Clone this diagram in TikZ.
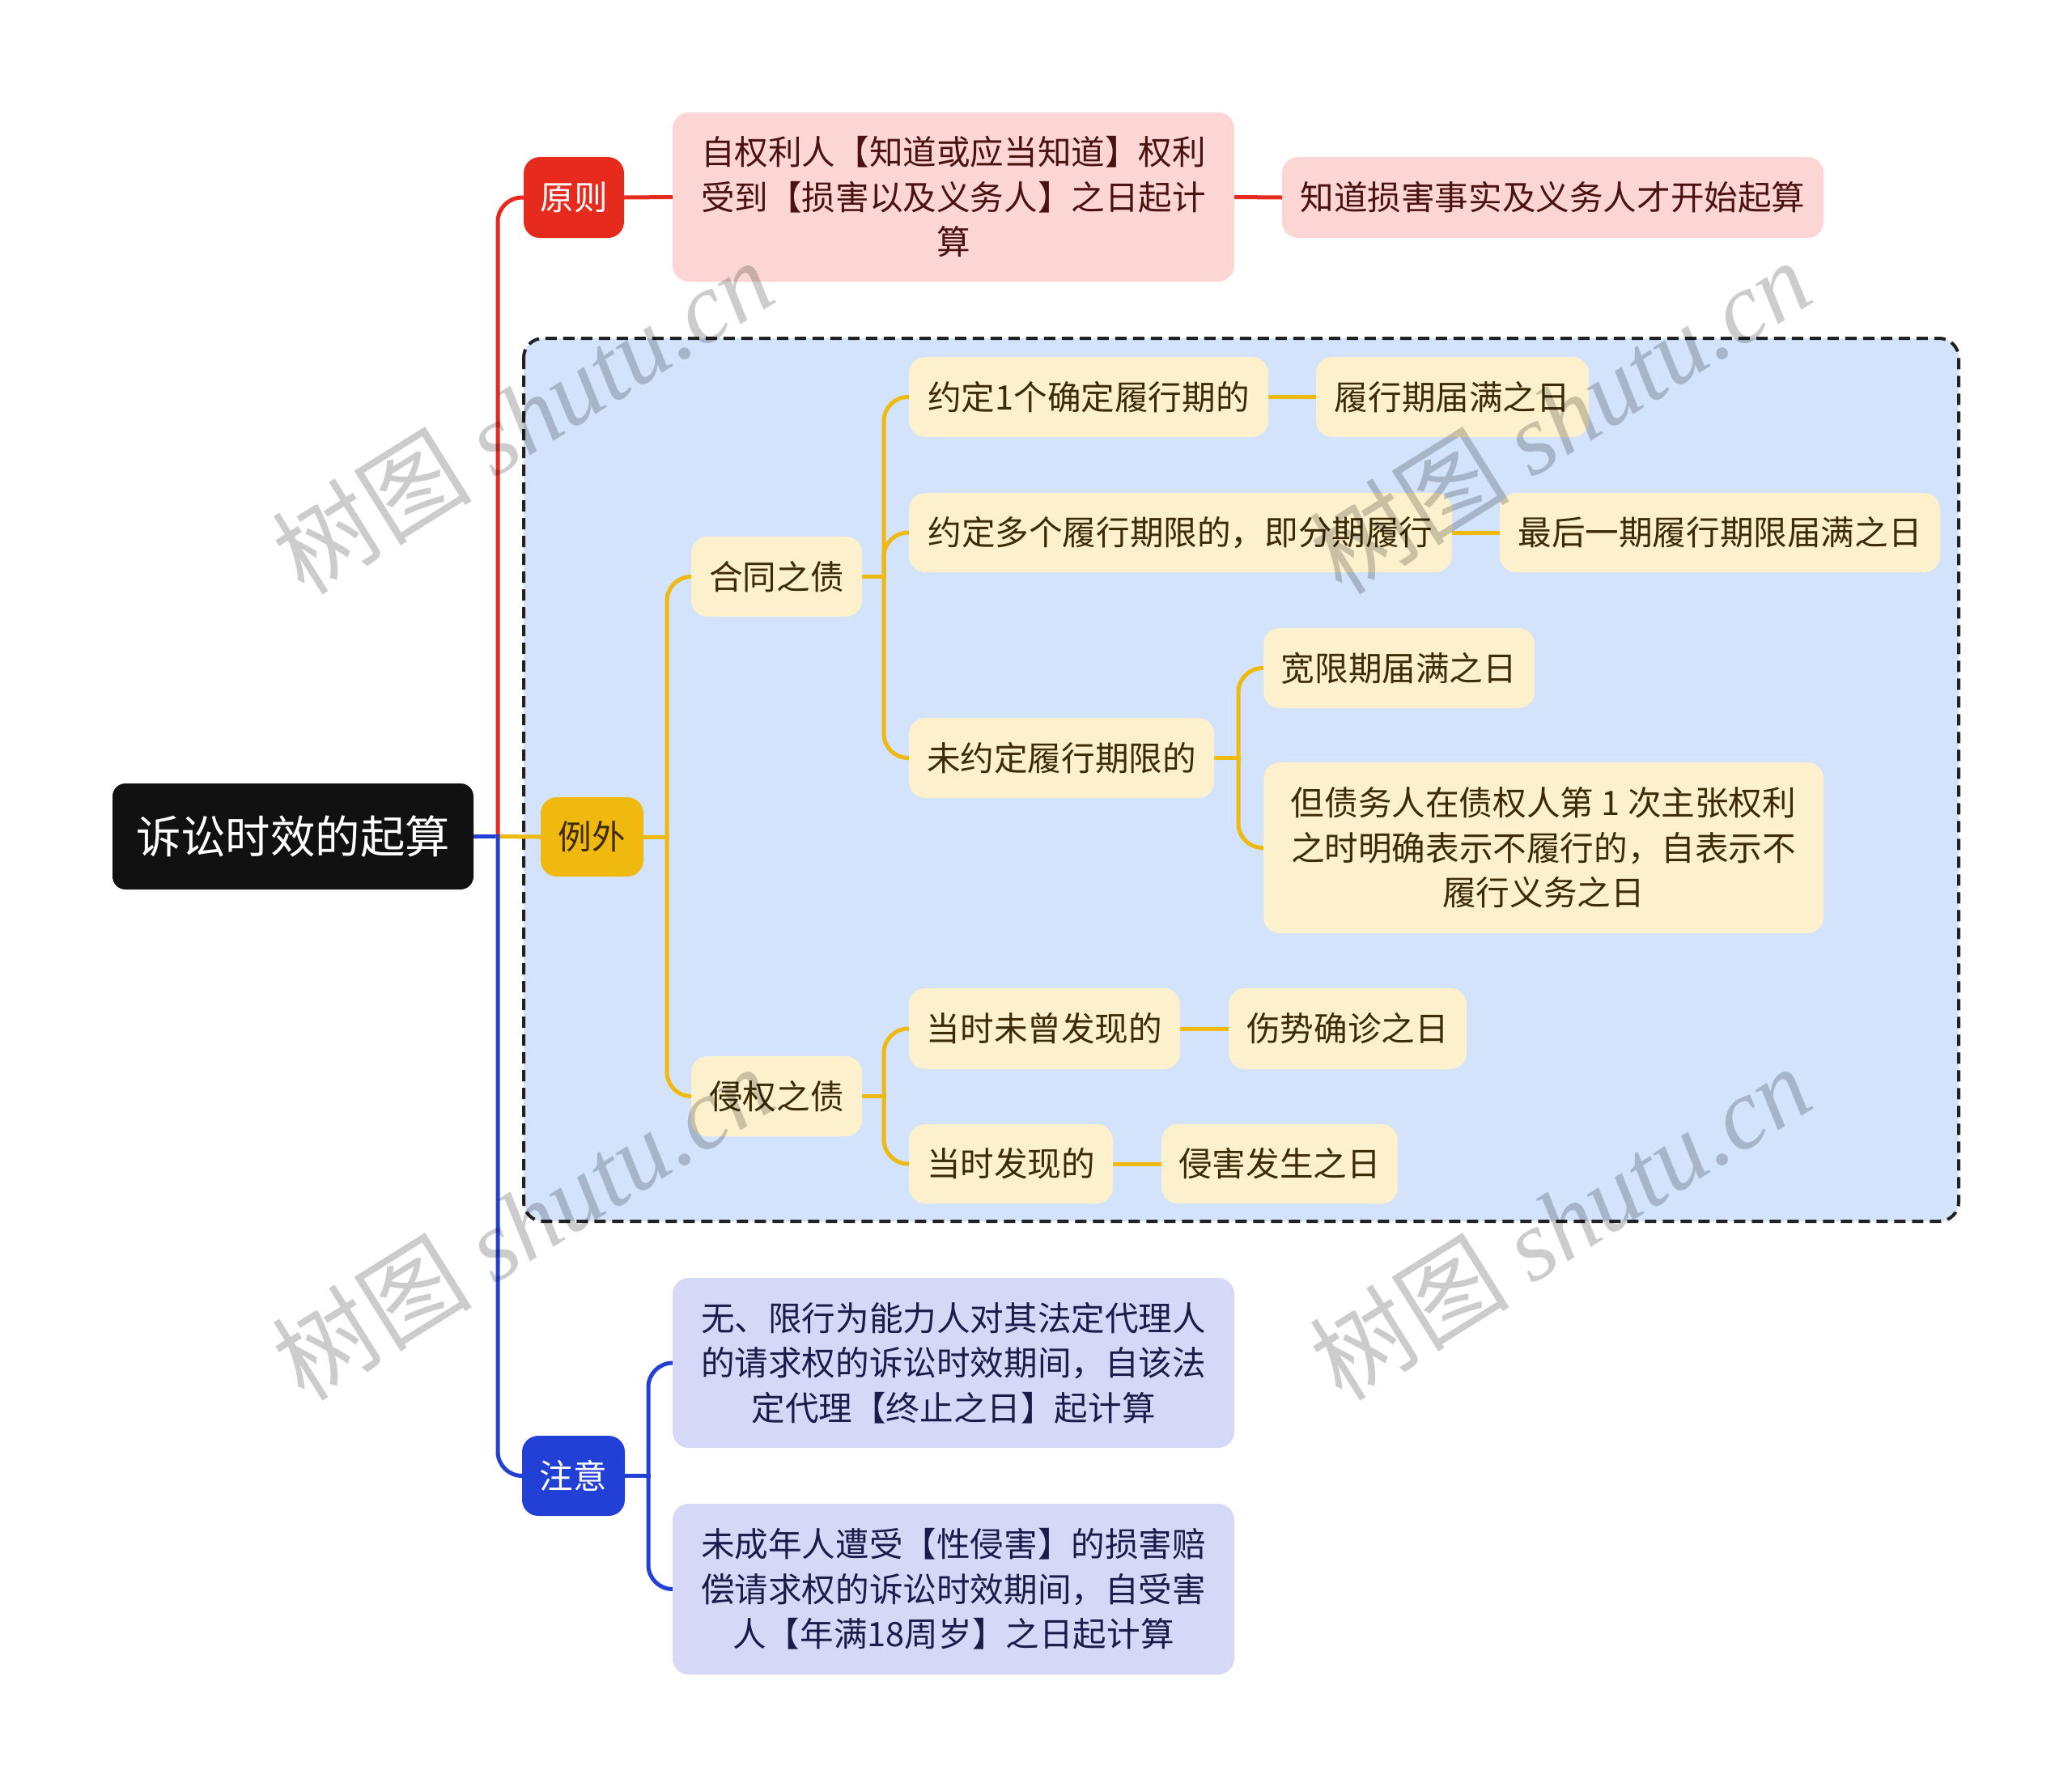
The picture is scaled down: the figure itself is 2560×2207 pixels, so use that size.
\documentclass[tikz,border=0pt]{standalone}
\usepackage{fontspec}
\setmainfont{Noto Sans CJK SC}
\newfontfamily\cjk{Noto Sans CJK SC}
\newfontfamily\wmlat{Liberation Serif}
\usetikzlibrary{backgrounds}
\definecolor{cred}{HTML}{E62A1E}
\definecolor{cpink}{HTML}{FCD6D4}
\definecolor{cpinktxt}{HTML}{4A1210}
\definecolor{cgold}{HTML}{EFB90F}
\definecolor{ccream}{HTML}{FDF0CD}
\definecolor{ccreamtxt}{HTML}{3D2B06}
\definecolor{cframe}{HTML}{D3E3FC}
\definecolor{cframeline}{HTML}{222222}
\definecolor{cblue}{HTML}{2340D6}
\definecolor{clav}{HTML}{D5D8F6}
\definecolor{clavtxt}{HTML}{1A1D4A}
\definecolor{croot}{HTML}{111111}
\tikzset{
  sz/.style 2 args={minimum width=#1*0.5pt, minimum height=#2*0.5pt},
  basebox/.style={rounded corners=10pt, inner sep=0pt, align=center,
    font=\fontsize{20.8}{27.75}\selectfont},
  rootbox/.style={basebox, rounded corners=8pt, fill=croot, text=white,
    font=\fontsize{27.7}{33}\selectfont},
  redbox/.style={basebox, fill=cred, text=white},
  pinkbox/.style={basebox, fill=cpink, text=cpinktxt},
  goldbox/.style={basebox, fill=cgold, text=ccreamtxt},
  creambox/.style={basebox, fill=ccream, text=ccreamtxt},
  bluebox/.style={basebox, fill=cblue, text=white},
  lavbox/.style={basebox, fill=clav, text=clavtxt},
  conn/.style={line width=2.5pt, rounded corners=15pt, line cap=rect},
  framebox/.style={fill=cframe, draw=cframeline, line width=2pt,
    dash pattern=on 7pt off 4pt, rounded corners=12pt},
  wmark/.style={rotate=32, text=black, text opacity=0.2, inner sep=0pt,
    font=\fontsize{62}{62}\selectfont},
}
\begin{document}
\begin{tikzpicture}[x=0.5pt,y=-0.5pt]
\useasboundingbox (0,0) rectangle (2560,2207);
% nodes
\node[rootbox, sz={446}{131}] (root) at (362,1033.5) {诉讼时效的起算};
\node[redbox, sz={124}{100}] (yz) at (709,244) {原则};
\node[pinkbox, sz={694}{209}] (p1) at (1178,243.5) {自权利人【知道或应当知道】权利\\受到【损害以及义务人】之日起计\\算};
\node[pinkbox, sz={669}{100}] (p2) at (1918.5,244) {知道损害事实及义务人才开始起算};
\node[goldbox, sz={127}{98}] (lw) at (731.5,1034) {例外};
\node[creambox, sz={211}{99}] (ht) at (959.5,712.5) {合同之债};
\node[creambox, sz={211}{99}] (qq) at (959.5,1354.5) {侵权之债};
\node[creambox, sz={444}{99}] (a1) at (1345,490.5) {约定1个确定履行期的};
\node[creambox, sz={337}{99}] (a1r) at (1794.5,490.5) {履行期届满之日};
\node[creambox, sz={671}{98}] (a2) at (1458.5,658) {约定多个履行期限的，即分期履行};
\node[creambox, sz={544}{98}] (a2r) at (2125,658) {最后一期履行期限届满之日};
\node[creambox, sz={377}{99}] (a3) at (1311.5,936.5) {未约定履行期限的};
\node[creambox, sz={335}{99}] (a3a) at (1728.5,825.5) {宽限期届满之日};
\node[creambox, sz={692}{211}] (a3b) at (1907,1047.5) {但债务人在债权人第 1 次主张权利\\之时明确表示不履行的，自表示不\\履行义务之日};
\node[creambox, sz={335}{100}] (b1) at (1290.5,1271) {当时未曾发现的};
\node[creambox, sz={294}{100}] (b1r) at (1665,1271) {伤势确诊之日};
\node[creambox, sz={252}{98}] (b2) at (1249,1438) {当时发现的};
\node[creambox, sz={292}{98}] (b2r) at (1581,1438) {侵害发生之日};
\node[bluebox, sz={127}{99}] (zy) at (708.5,1823.5) {注意};
\node[lavbox, sz={694}{210}] (n1) at (1178,1684) {无、限行为能力人对其法定代理人\\的请求权的诉讼时效期间，自该法\\定代理【终止之日】起计算};
\node[lavbox, sz={694}{211}] (n2) at (1178,1963.5) {未成年人遭受【性侵害】的损害赔\\偿请求权的诉讼时效期间，自受害\\人【年满18周岁】之日起计算};
% junctions
\coordinate (j0) at (615,1033.5);
\coordinate (j1) at (824,1034);
\coordinate (j2) at (1092,712.5);
\coordinate (j3) at (1530,936.5);
\coordinate (j4) at (1092,1354.5);
\coordinate (j5) at (801,1823.5);
\begin{pgfonlayer}{background}
\draw[framebox] (647,418) rectangle (2420,1509);
% root level
\draw[conn, cblue] (root.east) -- (j0);
\draw[conn, cred] (j0) |- (yz.west);
\draw[conn, cgold] (j0) -- (lw.west);
\draw[conn, cblue] (j0) |- (zy.west);
% principle
\draw[conn, cred] (yz.east) -- (p1.west);
\draw[conn, cred] (p1.east) -- (p2.west);
% exception
\draw[conn, cgold] (lw.east) -- (j1);
\draw[conn, cgold] (j1) |- (ht.west);
\draw[conn, cgold] (j1) |- (qq.west);
\draw[conn, cgold] (ht.east) -- (j2);
\draw[conn, cgold] (j2) |- (a1.west);
\draw[conn, cgold] (j2) |- (a2.west);
\draw[conn, cgold] (j2) |- (a3.west);
\draw[conn, cgold] (a1.east) -- (a1r.west);
\draw[conn, cgold] (a2.east) -- (a2r.west);
\draw[conn, cgold] (a3.east) -- (j3);
\draw[conn, cgold] (j3) |- (a3a.west);
\draw[conn, cgold] (j3) |- (a3b.west);
\draw[conn, cgold] (qq.east) -- (j4);
\draw[conn, cgold] (j4) |- (b1.west);
\draw[conn, cgold] (j4) |- (b2.west);
\draw[conn, cgold] (b1.east) -- (b1r.west);
\draw[conn, cgold] (b2.east) -- (b2r.west);
% notes
\draw[conn, cblue] (zy.east) -- (j5);
\draw[conn, cblue] (j5) |- (n1.west);
\draw[conn, cblue] (j5) |- (n2.west);
\end{pgfonlayer}
% watermarks
\node[wmark] (wm1) at (645,514) {{\cjk 树图} {\wmlat\itshape shutu.cn}};
\node[wmark] (wm2) at (1927,514) {{\cjk 树图} {\wmlat\itshape shutu.cn}};
\node[wmark] (wm3) at (645,1510) {{\cjk 树图} {\wmlat\itshape shutu.cn}};
\node[wmark] (wm4) at (1927,1510) {{\cjk 树图} {\wmlat\itshape shutu.cn}};
\end{tikzpicture}
\end{document}
